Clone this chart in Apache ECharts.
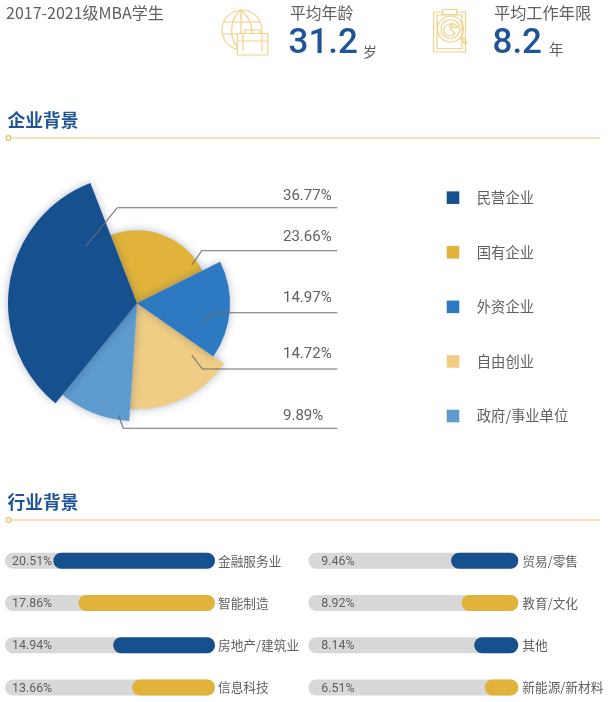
<!DOCTYPE html>
<html><head><meta charset="utf-8">
<style>html,body{margin:0;padding:0;background:#fff}#c{width:608px;height:702px}</style>
<script src="https://cdn.jsdelivr.net/npm/echarts@6/dist/echarts.min.js"></script>
</head><body><div id="c"></div>
<script>
// ---- data ----
const companyNames = ['民营企业','国有企业','外资企业','自由创业','政府/事业单位'];
const companyShares = [36.77,23.66,14.97,14.72,9.89];      // printed percentages
const sliceAngles = [119.6,84.6,61.4,59,35.4];            // angle each slice really occupies in the picture
const sliceReach = [129,73,93,106,118];                   // radius each slice really has in the picture
const sliceColors = ['#17508f','#e1b33b','#2e7ac2','#efcd85','#5e9bcf'];
const sliceOrder = [5,1,3,2,4];
const industryLeft = ['金融服务业','智能制造','房地产/建筑业','信息科技'];
const industryLeftShares = [20.51,17.86,14.94,13.66];     // printed
const industryLeftFill = [77,65,48.5,39.5];               // drawn share of the track
const industryRight = ['贸易/零售','教育/文化','其他','新能源/新材料'];
const industryRightShares = [9.46,8.92,8.14,6.51];        // printed
const industryRightFill = [32,27,21,16];                  // drawn share of the track
const fillColors = ['#17508f','#e1b33b','#17508f','#e1b33b'];
const trackFull = [100,100,100,100];

const GOLD='#f0d288', LINE='#f3d999', BLUE='#1f5498', GREY='#5f5f5f';
const CJK='"Noto Sans CJK SC","Noto Sans",sans-serif';
const NUM='Roboto,"Liberation Sans",sans-serif';

const chart = echarts.init(document.getElementById('c'),null,{renderer:'canvas'});

// ---- pie: one series per slice, as each has its own radius ----
let startCW = 219.2;
const pies = companyNames.map((n,i)=>{
  const s = {type:'pie',name:n,center:[137,303.3],radius:[0,sliceReach[i]],
    startAngle:((90-startCW)%360+360)%360,z:sliceOrder[i],silent:true,animation:false,
    itemStyle:{color:sliceColors[i]},
    label:{show:false},labelLine:{show:false},emphasis:{disabled:true},
    data:[{name:n,value:sliceAngles[i],itemStyle:{color:sliceColors[i],shadowBlur:9,shadowColor:'rgba(20,40,90,.32)'}},
          {name:'',value:360-sliceAngles[i],itemStyle:{color:'transparent'}}]};
  startCW += sliceAngles[i];
  return s;
});

// ---- bars ----
function barSet(idx,values,fill){
  const fmt=p=>values[p.dataIndex].toFixed(2)+'%';
  return [
    {type:'bar',xAxisIndex:idx,yAxisIndex:idx,data:trackFull,barWidth:16,barGap:'-100%',silent:true,animation:false,
     itemStyle:{color:'#d8d8d8',borderRadius:8},
     label:{show:true,position:'insideLeft',offset:[idx?8:2,1],formatter:fmt,fontFamily:NUM,fontSize:12.4,color:GREY},z:2},
    {type:'bar',xAxisIndex:idx,yAxisIndex:idx,barWidth:16,barGap:'-100%',silent:true,animation:false,
     data:fill.map((v,i)=>({value:v,itemStyle:{color:fillColors[i]}})),
     itemStyle:{borderRadius:8},z:3}
  ];
}
const xAx=i=>({gridIndex:i,type:'value',min:0,max:100,inverse:true,show:false});
const yAx=(i,names)=>({gridIndex:i,type:'category',data:names,inverse:true,position:'right',
  axisLine:{show:false},axisTick:{show:false},splitLine:{show:false},
  axisLabel:{margin:i?4:3,fontFamily:CJK,fontSize:12.7,color:GREY}});

// ---- decoration ----
const txt=(x,y,text,fs,color,fam,extra)=>({type:'text',x,y,silent:true,style:Object.assign(
  {text,fontSize:fs,fill:color,fontFamily:fam,textAlign:'left',textVerticalAlign:'middle'},extra||{})});
const stroke={stroke:GOLD,fill:'none',lineWidth:1.2};
const shapeEl=(type,shape)=>({type,shape,silent:true,style:stroke});
let pathId=0;
const pathEl=d=>{const name='iconPath'+(pathId++);
  echarts.graphic.registerShape(name,echarts.graphic.extendPath(d));
  return {type:name,silent:true,style:stroke};};
const rule=y=>[
  {type:'line',silent:true,shape:{x1:11,y1:y,x2:600,y2:y},style:{stroke:LINE,lineWidth:1.6}},
  {type:'circle',silent:true,shape:{cx:8.5,cy:y,r:2.3},style:{stroke:'#e7bf5b',fill:'#fff',lineWidth:1.2}}
];
const leaders=[
 [[86,246],[117.3,207.7],[337.3,207.7]],
 [[191.7,265],[201.7,250.7],[337.3,250.7]],
 [[201.7,326],[212,312.7],[337.3,312.7]],
 [[191.7,355],[202.3,369],[337.3,369]],
 [[118.3,415],[123.3,428.3],[337.3,428.3]]
];
const labelY=[196,237,298.5,354.5,416];
const graphic=[
  txt(6,13,'2017-2021级MBA学生',16,GREY,CJK),
  txt(290,12.5,'平均年龄',15.8,GREY,CJK),
  txt(288.5,44.5,'31.2',35,BLUE,NUM,{fontWeight:500}),
  txt(363,52,'岁',14,GREY,CJK),
  txt(494,13,'平均工作年限',16.2,GREY,CJK),
  txt(492.5,44,'8.2',35,BLUE,NUM,{fontWeight:500}),
  txt(549,49.5,'年',14.5,GREY,CJK),
  // globe + briefcase
  shapeEl('circle',{cx:242,cy:30,r:20}),
  pathEl('M241 10C230 18 227 40 241 50M241 10C250 17 252 26 252 33M241 10L241 33M223 22L260 22M222 34L237 34'),
  {type:'rect',silent:true,shape:{x:237.3,y:33.5,width:30.5,height:21.5},style:{stroke:GOLD,fill:'#fff',lineWidth:1.2}},
  pathEl('M245 33V30H260V33M237.3 41H267.8M243 33V51M262 33V51'),
  // clipboard + magnifier
  shapeEl('rect',{x:433.5,y:12,width:32,height:40}),
  shapeEl('rect',{x:437,y:15,width:25,height:33.5}),
  {type:'rect',silent:true,shape:{x:442.5,y:9.5,width:14,height:5},style:{stroke:GOLD,fill:'#fff',lineWidth:1.2}},
  shapeEl('circle',{cx:450.5,cy:29,r:13}),
  shapeEl('circle',{cx:450.5,cy:29,r:9.5}),
  pathEl('M450 24A6 6 0 1 0 455 33L450 29ZM452 23L458 27L452 28Z'),
  pathEl('M460 38L465 44L467 42.5L462 37'),
  ...rule(138),...rule(520),
  txt(7.5,120,'企业背景',17.8,BLUE,CJK,{fontWeight:700}),
  txt(7.5,502,'行业背景',17.8,BLUE,CJK,{fontWeight:700}),
  ...leaders.map(p=>({type:'polyline',silent:true,z:20,shape:{points:p},style:{stroke:'#6d6d6d',fill:'none',lineWidth:1.1}})),
  ...companyShares.map((v,i)=>txt(283,labelY[i],v.toFixed(2)+'%',15,GREY,NUM))
];

chart.setOption({
  animation:false,backgroundColor:'#fff',
  legend:{orient:'vertical',left:446.7,top:190.5,padding:0,icon:'rect',itemWidth:12.6,itemHeight:12.6,itemGap:40.3,
    selectedMode:false,data:companyNames,
    textStyle:{fontFamily:CJK,fontSize:14.3,color:GREY,lineHeight:14,padding:[0,0,0,12.5]}},
  grid:[{left:5,width:210,top:539.6,height:169,outerBoundsMode:'none'},{left:308.3,width:210,top:539.6,height:169,outerBoundsMode:'none'}],
  xAxis:[xAx(0),xAx(1)],
  yAxis:[yAx(0,industryLeft),yAx(1,industryRight)],
  series:[...pies,...barSet(0,industryLeftShares,industryLeftFill),...barSet(1,industryRightShares,industryRightFill)],
  graphic:graphic.map(g=>Object.assign({z:g.z||10},g))
});
</script></body></html>
